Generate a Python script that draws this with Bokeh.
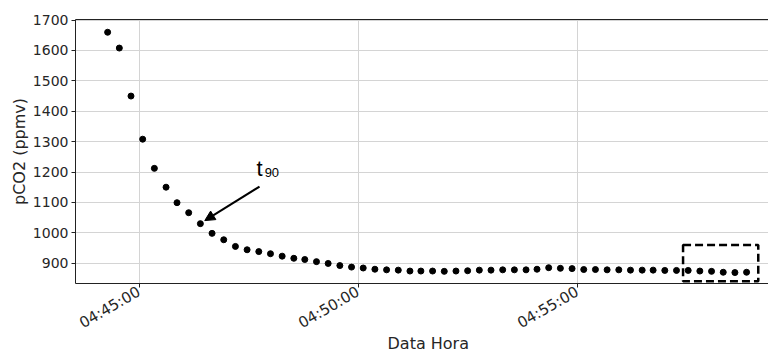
import math
from datetime import datetime
from bokeh.plotting import figure
from bokeh.models import (ColumnDataSource, Range1d, FixedTicker, LinearAxis, Title,
                          Label, Arrow, NormalHead, BoxAnnotation, DatetimeTickFormatter)
from bokeh.embed import file_html
from bokeh.resources import INLINE

# ---------------- data ----------------
DATE = "2021-01-01"
times = [
    "04:44:17", "04:44:33", "04:44:49", "04:45:05", "04:45:21", "04:45:37", "04:45:52",
    "04:46:08", "04:46:24", "04:46:40", "04:46:56", "04:47:12", "04:47:28", "04:47:44",
    "04:48:00", "04:48:16", "04:48:32", "04:48:47", "04:49:03", "04:49:19", "04:49:35",
    "04:49:51", "04:50:07", "04:50:23", "04:50:39", "04:50:55", "04:51:11", "04:51:26",
    "04:51:42", "04:51:58", "04:52:14", "04:52:30", "04:52:46", "04:53:02", "04:53:18",
    "04:53:34", "04:53:50", "04:54:05", "04:54:21", "04:54:37", "04:54:53", "04:55:09",
    "04:55:25", "04:55:41", "04:55:57", "04:56:13", "04:56:29", "04:56:44", "04:57:00",
    "04:57:16", "04:57:32", "04:57:48", "04:58:04", "04:58:20", "04:58:36", "04:58:52",
]
pco2 = [
    1660, 1608, 1450, 1308, 1212, 1150, 1099, 1066, 1030, 998,
    977, 955, 944, 938, 931, 923, 916, 912, 905, 899,
    892, 887, 884, 880, 878, 877, 874, 874, 874, 873,
    874, 875, 877, 877, 878, 878, 878, 880, 885, 883,
    882, 879, 879, 878, 878, 877, 877, 877, 876, 876,
    876, 874, 873, 870, 869, 870,
]
x_tick_labels = ["04:45:00", "04:50:00", "04:55:00"]
y_ticks = [900, 1000, 1100, 1200, 1300, 1400, 1500, 1600, 1700]
x_limits = ["04:43:33", "04:59:22"]
y_limits = [833, 1702]
# annotation: t90 arrow (tail -> head) and highlight box
t90_arrow_times = ["04:47:45", "04:46:30"]
t90_arrow_values = [1152, 1040]
t90_label_time = ["04:47:41", "04:47:52"]
t90_label_value = [1212, 1200]
box_times = ["04:57:25", "04:59:08"]
box_values = [840, 960]


def ms(s):
    d = datetime.strptime(DATE + " " + s, "%Y-%m-%d %H:%M:%S")
    return (d - datetime(1970, 1, 1)).total_seconds() * 1000.0


src = ColumnDataSource(dict(t=[ms(s) for s in times], v=pco2))

FONT = "DejaVu Sans"
TXT = "#262626"

p = figure(width=768, height=351, output_backend="svg", toolbar_location=None,
           x_axis_type="datetime",
           x_range=Range1d(ms(x_limits[0]), ms(x_limits[1])),
           y_range=Range1d(y_limits[0], y_limits[1]),
           min_border_left=75, min_border_right=0, min_border_top=19,
           min_border_bottom=68)
p.outline_line_color = None
p.background_fill_color = "white"
p.border_fill_color = "white"

p.scatter(x="t", y="v", source=src, size=6, color="black")

# axes
p.xaxis.ticker = FixedTicker(ticks=[ms(s) for s in x_tick_labels])
p.xaxis.formatter = DatetimeTickFormatter(seconds="%H:%M:%S", minsec="%H:%M:%S",
                                          minutes="%H:%M:%S", hourmin="%H:%M:%S",
                                          hours="%H:%M:%S")
p.xaxis.major_label_orientation = math.pi / 6
p.yaxis.ticker = FixedTicker(ticks=y_ticks)
p.yaxis.axis_label = "pCO2 (ppmv)"
p.yaxis.axis_label_text_font = FONT
p.yaxis.axis_label_text_font_size = "16px"
p.yaxis.axis_label_text_font_style = "normal"
p.yaxis.axis_label_text_color = TXT
p.yaxis.axis_label_standoff = 1
for ax in (p.xaxis, p.yaxis):
    ax.major_label_text_font = FONT
    ax.major_label_text_color = TXT
    ax.major_tick_out = 4
    ax.major_tick_in = 0
    ax.minor_tick_line_color = None
    ax.axis_line_color = "#222222"
    ax.major_tick_line_color = "#222222"
p.yaxis.major_label_text_font_size = "14px"
p.yaxis.major_label_standoff = 3
p.xaxis.major_label_text_font_size = "15px"
p.xaxis.major_label_standoff = 3

top = LinearAxis(ticker=FixedTicker(ticks=[]), major_label_text_font_size="0px",
                 major_tick_line_color=None, minor_tick_line_color=None,
                 axis_line_color="#222222")
p.add_layout(top, "above")

p.xgrid.grid_line_color = "#d4d4d4"
p.ygrid.grid_line_color = "#d4d4d4"

# x-axis label as a title below the axis (reference frame is cropped on the right,
# so its label sits a little right of this frame's centre)
p.add_layout(Title(text="Data Hora", align="left", offset=312, standoff=-21,
                   vertical_align="bottom",
                   text_font=FONT, text_font_size="16px", text_font_style="normal",
                   text_color=TXT), "below")

# t90 annotation
p.add_layout(Arrow(end=NormalHead(size=10, fill_color="black", line_color="black"),
                   x_start=ms(t90_arrow_times[0]), y_start=t90_arrow_values[0],
                   x_end=ms(t90_arrow_times[1]), y_end=t90_arrow_values[1],
                   line_color="black", line_width=2))
p.add_layout(Label(x=ms(t90_label_time[0]), y=t90_label_value[0], text="t",
                   text_font="Liberation Sans", text_font_size="22px",
                   text_color="black", text_baseline="alphabetic"))
p.add_layout(Label(x=ms(t90_label_time[1]), y=t90_label_value[1], text="90",
                   text_font="Liberation Sans", text_font_size="13px",
                   text_color="black", text_baseline="alphabetic"))

p.add_layout(BoxAnnotation(left=ms(box_times[0]), right=ms(box_times[1]),
                           bottom=box_values[0], top=box_values[1],
                           fill_color=None, fill_alpha=0, line_color="black",
                           line_alpha=1, line_width=2.5, line_dash="8 4"))

open("out.html", "w").write(file_html(p, INLINE))
